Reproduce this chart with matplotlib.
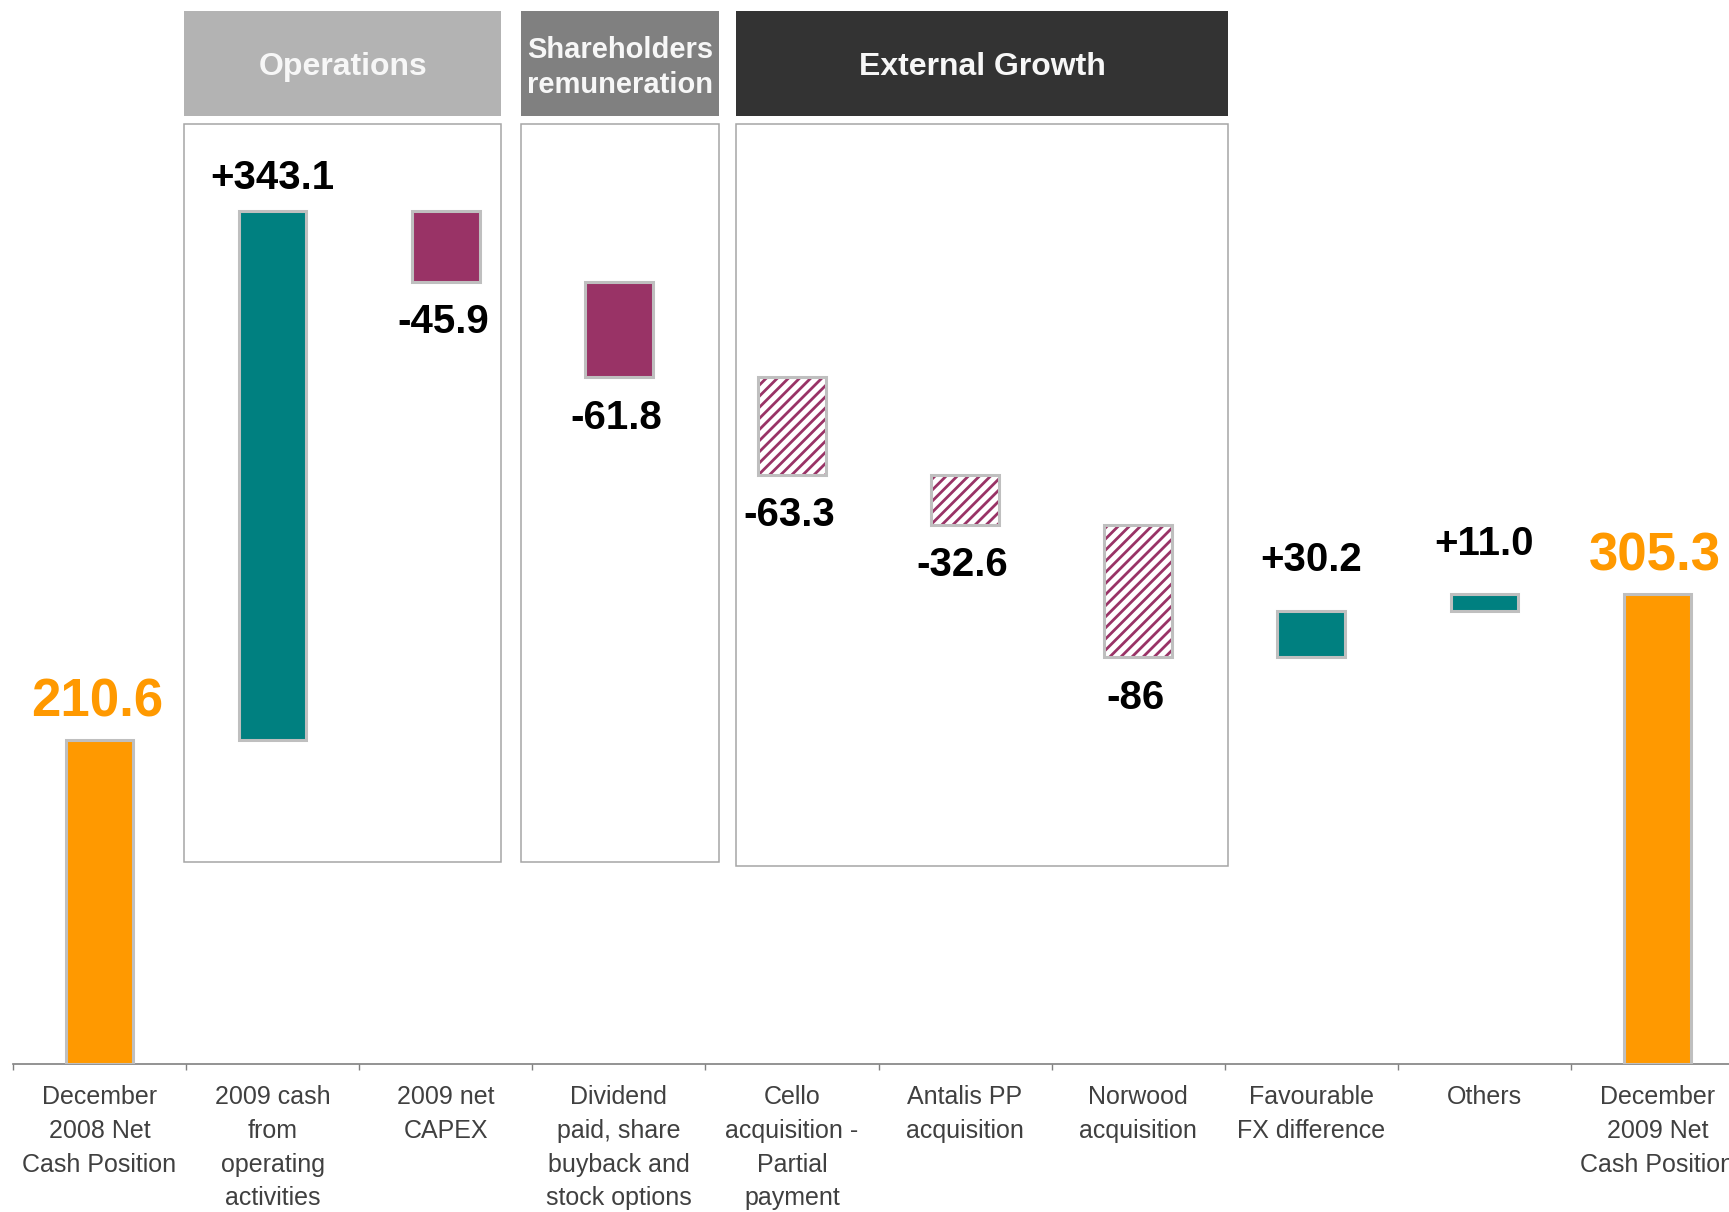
import matplotlib
matplotlib.use("Agg")
import matplotlib.pyplot as plt
import numpy as np
from matplotlib.patches import Rectangle

plt.rcParams['font.family'] = ['Liberation Sans', 'DejaVu Sans']
plt.rcParams['hatch.linewidth'] = 2.0

# net cash bridge, EUR m
categories = ["December\n2008 Net\nCash Position",
              "2009 cash\nfrom\noperating\nactivities",
              "2009 net\nCAPEX",
              "Dividend\npaid, share\nbuyback and\nstock options",
              "Cello\nacquisition -\nPartial\npayment",
              "Antalis PP\nacquisition",
              "Norwood\nacquisition",
              "Favourable\nFX difference",
              "Others",
              "December\n2009 Net\nCash Position"]
opening = 210.6
closing = 305.3
movements = [343.1, -45.9, -61.8, -63.3, -32.6, -86.0, 30.2, 11.0]
movement_labels = ["+343.1", "-45.9", "-61.8", "-63.3", "-32.6", "-86", "+30.2", "+11.0"]
is_acquisition = [False, False, False, True, True, True, False, False]

groups = ["Operations", "Shareholders\nremuneration", "External Growth"]
group_spans = [(0.487, 2.322), (2.436, 3.576), (3.678, 6.519)]
group_colors = ["#B3B3B3", "#808080", "#333333"]
group_fontsize = [23, 21, 23]

ORANGE = "#FF9900"
TEAL = "#008080"
PLUM = "#993366"
EDGE = "#BFBFBF"
W = 0.39

fig = plt.figure(figsize=(17.29, 12.12), dpi=100)
ax = fig.add_axes([13 / 1729, 148 / 1212, 1731 / 1729, 1064 / 1212])
ax.set_xlim(-0.5, 9.5)
ax.set_ylim(0, 1064 / 1.54)

# group frames and headers (drawn first so bars sit on top)
for (x0, x1), name, col, fs in zip(group_spans, groups, group_colors, group_fontsize):
    bot = 128.8 if name == "External Growth" else 131
    ax.add_patch(Rectangle((x0, bot), x1 - x0, 610.7 - bot, fill=False,
                           ec="#A6A6A6", lw=1.1, zorder=1))
    ax.add_patch(Rectangle((x0, 615.7), x1 - x0, 683.8 - 615.7, fc=col,
                           ec="none", zorder=1))
    ax.text((x0 + x1) / 2, (615.7 + 683.8) / 2 - 2.5, name, ha="center", va="center",
            color="#F7F7F7", fontsize=fs, fontweight="bold", linespacing=1.3, zorder=2)

# totals
ax.bar([0, 9], [opening, closing], width=W, color=ORANGE, edgecolor=EDGE,
       linewidth=2.2, zorder=3)
for x, v in zip([0, 9], [opening, closing]):
    ax.annotate(f"{v:.1f}", (x, v), xytext=(-2, 17), textcoords="offset points",
                ha="center", va="baseline", fontsize=38, fontweight="bold",
                color=ORANGE, zorder=4)

# movements
levels = opening + np.cumsum(movements)
starts = np.concatenate([[opening], levels[:-1]])
xs = np.arange(1, 1 + len(movements))
bottoms = np.minimum(starts, levels)
heights = np.abs(movements)
up_gap = [16, 0, 0, 0, 0, 0, 29, 28]

for x, b, h, m, lab, acq, g in zip(xs, bottoms, heights, movements,
                                   movement_labels, is_acquisition, up_gap):
    if acq:
        ax.bar(x, h, bottom=b, width=W, color="white", edgecolor=PLUM,
               hatch="///", linewidth=0, zorder=3)
        ax.bar(x, h, bottom=b, width=W, fill=False, edgecolor=EDGE,
               linewidth=2.2, zorder=3)
    else:
        ax.bar(x, h, bottom=b, width=W, color=TEAL if m > 0 else PLUM,
               edgecolor=EDGE, linewidth=2.2, zorder=3)
    if m > 0:
        ax.annotate(lab, (x, b + h), xytext=(0, g), textcoords="offset points",
                    ha="center", va="baseline", fontsize=29, fontweight="bold",
                    color="black", zorder=4)
    else:
        ax.annotate(lab, (x, b), xytext=(-2, -37), textcoords="offset points",
                    ha="center", va="baseline", fontsize=29, fontweight="bold",
                    color="black", zorder=4)

# axis styling
for s in ["top", "left", "right"]:
    ax.spines[s].set_visible(False)
ax.spines["bottom"].set_color("#808080")
ax.spines["bottom"].set_linewidth(1.2)
ax.set_yticks([])
ax.set_xticks(np.arange(len(categories)))
ax.set_xticklabels(categories, fontsize=18, color="#404040", linespacing=1.52)
ax.set_xticks(np.arange(-0.5, len(categories), 1), minor=True)
ax.tick_params(axis="x", which="major", length=0, pad=15)
ax.tick_params(axis="x", which="minor", length=4.5, width=1.0, color="#808080",
               direction="out")

fig.savefig("out.png", dpi=100)
